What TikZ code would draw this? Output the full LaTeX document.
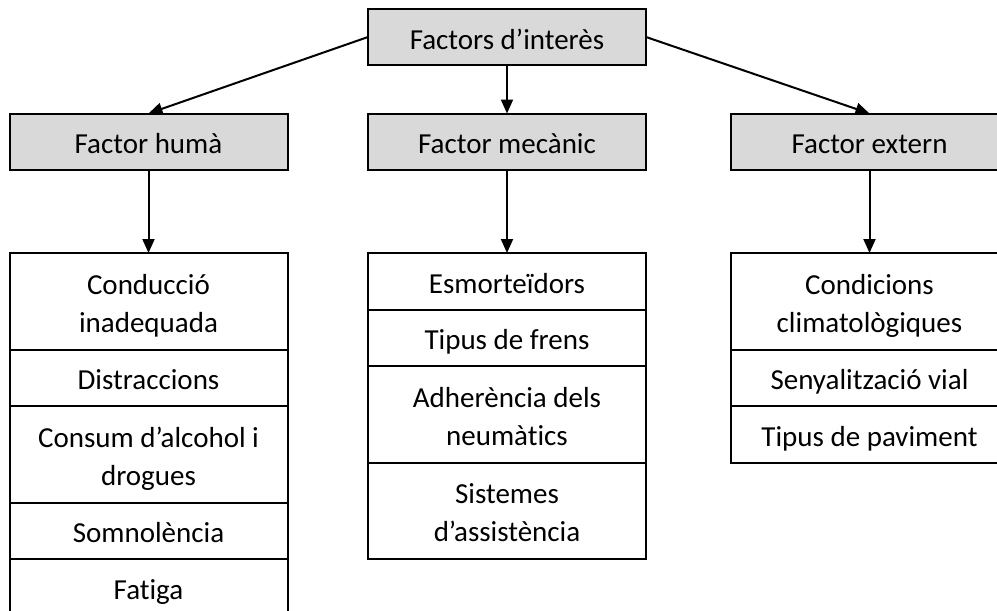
\documentclass[tikz,border=0pt]{standalone}
\usepackage{fontspec}
\setmainfont{Carlito}[Ligatures=NoCommon]
\usetikzlibrary{arrows.meta}
\definecolor{hdrgray}{HTML}{D9D9D9}
\begin{document}
\begin{tikzpicture}[x=1pt,y=-1pt,
  txt/.style={font=\fontsize{29}{38}\selectfont, text height=27pt, text depth=3pt},
  hdr/.style={txt, draw, line width=2pt, fill=hdrgray, minimum width=278pt, minimum height=56pt, inner sep=0pt, outer sep=0pt},
  cell/.style={txt, draw, line width=2pt, minimum width=278pt, inner sep=0pt, outer sep=0pt, align=center, anchor=north},
  one/.style={cell, minimum height=56.5pt},
  two/.style={cell, minimum height=96.5pt, text height=65pt},
  arr/.style={line width=2pt, -{Triangle[width=12pt,length=14pt]}}]
\useasboundingbox (0,0) rectangle (997,611);
\clip (0,0) rectangle (997,611);
% headers
\node[hdr] (top) at (507,37) {Factors d’interès};
\node[hdr] (hum) at (148.5,141.5) {Factor humà};
\node[hdr] (mec) at (507,141.5) {Factor mecànic};
\node[hdr] (ext) at (869.5,141.5) {Factor extern};
% left list
\node[two] (h1) at (148.5,253) {Conducció\\inadequada};
\node[one] (h2) at (h1.south) {Distraccions};
\node[two] (h3) at (h2.south) {Consum d’alcohol i\\drogues};
\node[one] (h4) at (h3.south) {Somnolència};
\node[one] (h5) at (h4.south) {Fatiga};
% middle list
\node[one] (m1) at (507,253) {Esmorteïdors};
\node[one] (m2) at (m1.south) {Tipus de frens};
\node[two] (m3) at (m2.south) {Adherència dels\\neumàtics};
\node[two] (m4) at (m3.south) {Sistemes\\d’assistència};
% right list
\node[two] (e1) at (869.5,253) {Condicions\\climatològiques};
\node[one] (e2) at (e1.south) {Senyalització vial};
\node[one] (e3) at (e2.south) {Tipus de paviment};
% arrows
\draw[arr] (top.south) -- (mec.north);
\draw[arr] (top.west) -- (hum.north);
\draw[arr] (top.east) -- (ext.north);
\draw[arr] (hum.south) -- (h1.north);
\draw[arr] (mec.south) -- (m1.north);
\draw[arr] (ext.south) -- (e1.north);
\end{tikzpicture}
\end{document}
